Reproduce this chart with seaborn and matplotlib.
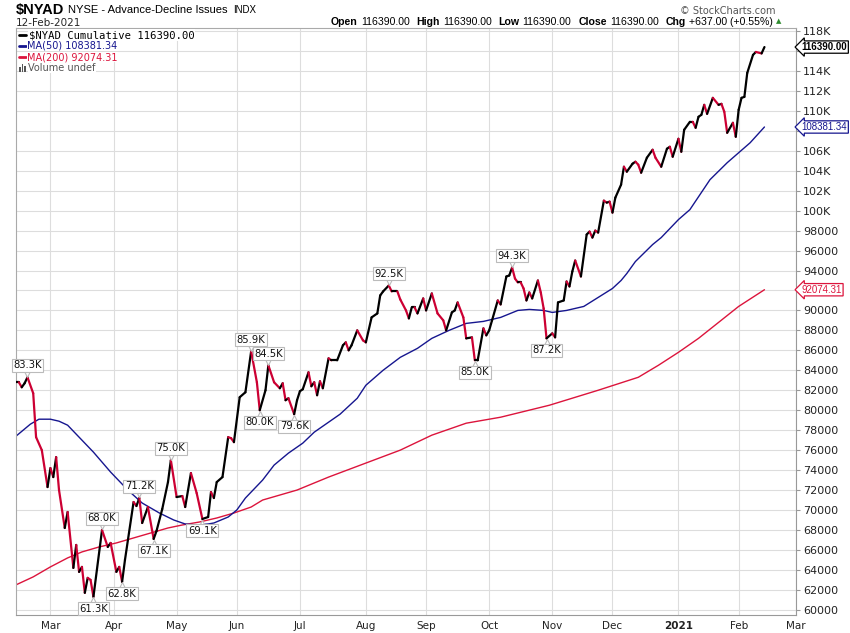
import numpy as np
import pandas as pd
import matplotlib
matplotlib.use("Agg")
import matplotlib.pyplot as plt
import matplotlib.transforms as mtransforms
import seaborn as sns
from matplotlib.collections import LineCollection
from matplotlib.patches import Rectangle

UP = "#000000"
DOWN = "#cc0033"
MA50_C = "#16168f"
MA200_C = "#dc143c"
GRID = "#dddddd"

# $NYAD cumulative
# session = business days counted from 13-Feb-2020, values in thousands
session = [0, 1, 2, 3, 4, 6, 7, 9, 11, 12, 13, 14, 15, 17, 18, 20, 21, 22, 23, 24, 25, 26, 27,
           30, 32, 33, 35, 36, 37, 38, 41, 42, 43, 44, 46, 48, 49, 51, 53, 54, 56, 58, 59,
           61, 63, 65, 67, 68, 69, 70, 72, 74, 75, 76, 78, 80, 82, 84, 85, 87, 88, 90, 92,
           93, 94, 95, 97, 98, 99, 100, 102, 103, 104, 105, 106, 107, 109, 110, 112, 114,
           115, 116, 117, 119, 121, 122, 124, 126, 127, 128, 130, 131, 133, 134, 136, 137,
           138, 139, 140, 142, 143, 145, 147, 149, 150, 152, 153, 154, 156, 157, 159, 160,
           161, 163, 164, 165, 166, 168, 169, 171, 172, 173, 174, 175, 176, 177, 178, 179,
           180, 182, 183, 184, 185, 187, 188, 189, 191, 192, 193, 194, 195, 197, 199, 200,
           201, 202, 203, 205, 206, 207, 208, 209, 211, 212, 213, 215, 216, 217, 218, 220,
           222, 223, 225, 227, 228, 229, 231, 232, 233, 235, 236, 237, 238, 239, 240, 241,
           243, 245, 246, 247, 248, 250, 251, 252, 253, 254, 255, 257, 258, 260, 261]
nyad_k = [82.8, 82.8, 82.3, 82.7, 83.3, 81.7, 77.3, 76.0, 72.3, 74.2, 73.3, 75.3, 72.0, 68.2, 69.8, 64.2, 66.5, 63.8, 64.3, 61.7, 63.2, 63.0, 61.3,
          68.0, 66.3, 66.7, 63.8, 64.3, 62.8, 65.0, 70.8, 70.4, 71.2, 68.7, 70.3, 67.1, 67.9, 70.1, 72.8, 75.0, 71.3, 71.4, 70.3,
          73.7, 71.7, 69.1, 69.3, 71.8, 71.2, 72.8, 73.3, 77.3, 77.2, 76.8, 81.3, 81.8, 85.9, 82.8, 80.0, 82.0, 84.5, 82.8, 82.2,
          82.7, 81.0, 81.2, 79.6, 81.0, 81.9, 82.1, 83.8, 82.4, 82.8, 81.5, 82.9, 82.2, 85.2, 85.0, 85.0, 86.5,
          86.8, 86.0, 86.5, 88.0, 87.0, 86.8, 89.3, 89.7, 91.5, 91.9, 92.5, 91.9, 91.9, 91.1, 90.0, 89.2,
          90.3, 90.3, 89.7, 91.2, 90.0, 91.7, 89.7, 89.0, 88.0, 89.8, 90.0, 90.8, 89.3, 87.2, 87.3, 85.0,
          85.0, 88.2, 87.5, 88.0, 89.0, 91.0, 90.6, 93.4, 93.5, 94.3, 93.2, 92.8, 92.8, 92.2, 91.0, 91.8,
          91.2, 93.0, 91.8, 90.2, 87.2, 87.7, 87.3, 90.8, 91.0, 92.9, 92.4, 93.9, 95.0, 93.4, 97.6, 97.9,
          97.3, 98.0, 97.8, 101.0, 100.8, 100.9, 99.8, 101.3, 102.6, 104.4, 103.9, 104.7, 104.9, 104.6, 103.8, 105.3,
          106.1, 105.3, 104.4, 106.2, 106.4, 105.4, 107.2, 105.9, 108.1, 108.9, 108.9, 108.3, 109.4, 109.6, 110.6, 109.7,
          111.3, 110.6, 110.7, 109.9, 107.8, 108.8, 107.4, 110.1, 111.3, 111.4, 113.8, 115.6, 115.9, 115.753, 116.39]

ma50_session = [0, 5, 8, 12, 15, 18, 22, 27, 33, 39, 44, 50, 55, 59, 63, 67, 69, 74, 77, 80,
                86, 90, 95, 100, 104, 109, 113, 119, 122, 128, 134, 140, 145, 151, 157, 163, 169,
                175, 179, 184, 187, 192, 198, 203, 208, 211, 213, 216, 222, 225, 231, 235, 242,
                248, 252, 256, 261]
ma50_k = [77.4, 78.6, 79.1, 79.1, 78.9, 78.5, 77.3, 75.8, 73.8, 72.0, 70.7, 69.7, 69.0, 68.6, 68.5, 68.6, 68.7, 69.3, 70.0, 71.2,
          73.0, 74.5, 75.7, 76.7, 77.8, 78.8, 79.6, 81.2, 82.5, 84.0, 85.3, 86.2, 87.2, 88.0, 88.7, 88.9, 89.3,
          90.0, 90.1, 90.0, 89.8, 90.0, 90.4, 91.3, 92.2, 93.0, 93.7, 94.9, 96.6, 97.3, 99.1, 100.1, 103.1,
          104.8, 105.8, 106.8, 108.38134]

ma200_session = [0, 6, 12, 18, 23, 29, 35, 41, 47, 53, 58, 64, 70, 76, 82, 86, 98, 109, 134, 145,
                 157, 169, 186, 203, 217, 224, 231, 238, 245, 252, 261]
ma200_k = [62.5, 63.3, 64.3, 65.2, 65.8, 66.3, 66.7, 67.2, 67.7, 68.2, 68.5, 68.8, 69.2, 69.7, 70.3, 71.0, 72.0, 73.3, 76.0, 77.5,
           78.7, 79.3, 80.5, 82.0, 83.3, 84.5, 85.8, 87.2, 88.8, 90.4, 92.07431]

# swing high / low labels
swing_session = [4, 27, 30, 37, 43, 48, 54, 65, 82, 85, 88, 97, 130, 160, 173, 185]
swing_text = ["83.3K", "61.3K", "68.0K", "62.8K", "71.2K", "67.1K", "75.0K", "69.1K",
              "85.9K", "80.0K", "84.5K", "79.6K", "92.5K", "85.0K", "94.3K", "87.2K"]
swing_high = [True, False, True, False, True, False, True, False,
              True, False, True, False, True, False, True, False]

dates = pd.bdate_range("2020-02-13", periods=273)

price = pd.DataFrame({"session": session, "value": np.array(nyad_k) * 1000})
ma50 = pd.DataFrame({"session": ma50_session, "value": np.array(ma50_k) * 1000})
ma200 = pd.DataFrame({"session": ma200_session, "value": np.array(ma200_k) * 1000})

sns.set_style("white")
plt.rcParams["font.family"] = ["DejaVu Sans"]

W, H = 850, 633
fig = plt.figure(figsize=(W / 100, H / 100), dpi=100)
ax = fig.add_axes([16 / W, 1 - 615 / H, 780 / W, 587 / H])

# grid
yticks = list(range(60000, 118001, 2000))
for v in yticks:
    ax.axhline(v, color=GRID, lw=0.8, zorder=0)
month_idx = [i for i in range(1, len(dates)) if dates[i].month != dates[i - 1].month]
for i in month_idx:
    ax.axvline(i, color=GRID, lw=0.8, zorder=0)

sns.lineplot(data=ma200, x="session", y="value", color=MA200_C, lw=1.0, ax=ax, zorder=2)
sns.lineplot(data=ma50, x="session", y="value", color=MA50_C, lw=1.0, ax=ax, zorder=2)

# price line: black on rising days, red on falling days
xs = price["session"].values
ys = price["value"].values
segs = [[(xs[i], ys[i]), (xs[i + 1], ys[i + 1])] for i in range(len(xs) - 1)]
cols = [DOWN if ys[i + 1] < ys[i] else UP for i in range(len(xs) - 1)]
ax.add_collection(LineCollection(segs, colors=cols, linewidths=1.6, capstyle="round",
                                 joinstyle="round", zorder=4))

ax.set_xlim(0, 272)
ax.set_ylim(59480, 118300)
ax.set_xlabel("")
ax.set_ylabel("")

# tick labels hidden behind the last-value tags are left blank
hidden = {116000, 108000, 92000}
ax.yaxis.tick_right()
ax.set_yticks(yticks)
ax.set_yticklabels(["" if v in hidden else (f"{v // 1000}K" if v >= 100000 else str(v)) for v in yticks])
ax.tick_params(axis="y", labelsize=8, length=3, color="#999999", labelcolor="#222222", pad=2)

xlabels = ["2021" if dates[i].month == 1 else dates[i].strftime("%b") for i in month_idx]
ax.set_xticks(month_idx)
ax.set_xticklabels(xlabels)
ax.tick_params(axis="x", labelsize=7.5, length=0, pad=4, labelcolor="#222222")
for lab in ax.get_xticklabels():
    if lab.get_text() == "2021":
        lab.set_fontweight("bold")

for side in ["left", "top"]:
    ax.spines[side].set_color("#aaaaaa")
    ax.spines[side].set_linewidth(0.8)
for side in ["right", "bottom"]:
    ax.spines[side].set_color("#999999")
    ax.spines[side].set_linestyle((0, (1, 1)))
    ax.spines[side].set_linewidth(0.8)

# swing labels with a small pointer towards the turning point
for s, t, hi in zip(swing_session, swing_text, swing_high):
    v = price.loc[price["session"] == s, "value"].iloc[0]
    ax.annotate(t, xy=(s, v), xytext=(0, 8.5 if hi else -8.5), textcoords="offset points",
                ha="center", va="center", fontsize=7.2, color="#111111",
                bbox=dict(boxstyle="square,pad=0.15", fc="white", ec="#bbbbbb", lw=0.8), zorder=6)
    shift = mtransforms.ScaledTranslation(0, (2.6 if hi else -2.6) / 72, fig.dpi_scale_trans)
    ax.plot([s], [v], marker="v" if hi else "^", ms=4.5, mfc="white", mec="#bbbbbb", mew=0.8,
            transform=ax.transData + shift, zorder=5)

# last value tags on the right axis
tags = [(ys[-1], UP, "bold"), (ma50["value"].iloc[-1], MA50_C, "normal"),
        (ma200["value"].iloc[-1], MA200_C, "normal")]
for v, c, w in tags:
    ax.annotate(f"{v:.2f}", xy=(1, v), xycoords=ax.get_yaxis_transform(), xytext=(4, 0),
                textcoords="offset points", ha="left", va="center", fontsize=7, color=c,
                family="Liberation Sans", fontweight=w, annotation_clip=False,
                bbox=dict(boxstyle="larrow,pad=0.12", fc="white", ec=c, lw=0.9), zorder=7)


def px(x, y):
    return x / W, 1 - y / H


renderer = fig.canvas.get_renderer()


def flow(x, y, pieces):
    # place text pieces one after the other, starting at pixel x
    for t, size, weight, gap, color in pieces:
        txt = fig.text(*px(x, y), t, fontsize=size, fontweight=weight, family="Liberation Sans",
                       color=color, va="center")
        x += txt.get_window_extent(renderer).width + gap
    return x


# header
flow(16, 10, [("$NYAD", 10.5, "bold", 4, "black"),
              ("NYSE - Advance-Decline Issues", 8, "normal", 5, "black"),
              ("INDX", 7, "normal", 0, "black")])
fig.text(*px(16, 23), "12-Feb-2021", fontsize=7.5, va="center")
fig.text(*px(775, 11), "\u00a9 StockCharts.com", fontsize=7, color="#555555", ha="right", va="center")

end = flow(331, 22, [("Open", 7.6, "bold", 3, "black"), ("116390.00", 7.6, "normal", 7, "black"),
                     ("High", 7.6, "bold", 3, "black"), ("116390.00", 7.6, "normal", 7, "black"),
                     ("Low", 7.6, "bold", 3, "black"), ("116390.00", 7.6, "normal", 7, "black"),
                     ("Close", 7.6, "bold", 3, "black"), ("116390.00", 7.6, "normal", 7, "black"),
                     ("Chg", 7.6, "bold", 3, "black"), ("+637.00 (+0.55%)", 7.6, "normal", 3, "black")])
fig.text(*px(end + 3, 21), "\u25b2", fontsize=5, color="#2e8b2e", ha="center", va="center")

# legend
leg = [("$NYAD Cumulative 116390.00", UP, "DejaVu Sans Mono", 7.6),
       ("MA(50) 108381.34", MA50_C, "DejaVu Sans", 7),
       ("MA(200) 92074.31", MA200_C, "DejaVu Sans", 7)]
for k, (t, c, f, s) in enumerate(leg):
    y = 35 + k * 11
    fig.lines.append(plt.Line2D([19 / W, 26 / W], [1 - y / H] * 2, color=c, lw=2, transform=fig.transFigure))
    fig.text(*px(29 if k == 0 else 27, y), t, fontsize=s, family=f, color=c, va="center",
             bbox=dict(boxstyle="square,pad=0.05", fc="white", ec="none"))
# small volume-bars icon
for bx, bh in [(19, 5), (21.5, 8), (24, 6)]:
    fig.add_artist(Rectangle((bx / W, 1 - 72 / H), 1.6 / W, bh / H, transform=fig.transFigure,
                             fc="#555555", ec="none"))
fig.text(*px(28, 68), "Volume undef", fontsize=7, color="#555555", va="center",
         bbox=dict(boxstyle="square,pad=0.05", fc="white", ec="none"))

fig.savefig("out.png", dpi=100)
